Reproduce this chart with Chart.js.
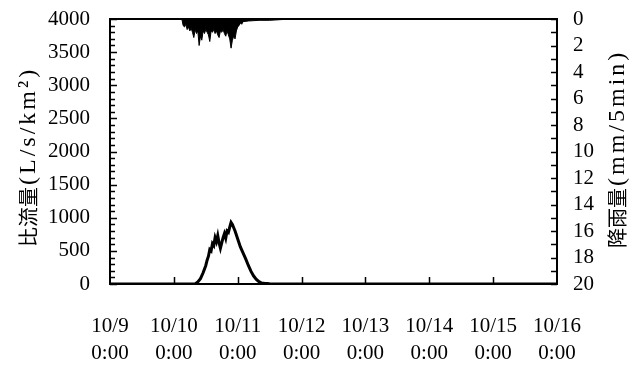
<!DOCTYPE html>
<html>
<head>
<meta charset="utf-8">
<script src="https://cdn.jsdelivr.net/npm/chart.js@4"></script>
<style>
  html, body { margin: 0; padding: 0; background: #fff; }
</style>
</head>
<body>
<canvas id="chart" width="636" height="366"></canvas>
<script>
// x axis: hours counted from 10/9 0:00
var dayLabels = ["10/9", "10/10", "10/11", "10/12", "10/13", "10/14", "10/15", "10/16"];
var timeLabel = "0:00";

// specific discharge (L/s/km2)
var flowHours = [0, 32, 33, 34, 35, 36, 36.5, 37, 37.5, 38, 38.5, 39, 39.5, 40, 40.5, 41, 41.5, 42, 42.5, 43,
  43.5, 44, 44.5, 45, 45.5, 46, 46.5, 47, 47.5, 48, 49, 50, 51, 52, 53, 54, 55, 56, 57, 58, 60, 64, 168];
var flowValues = [0, 0, 30, 80, 170, 280, 360, 420, 520, 500, 610, 580, 700, 640, 730, 620, 540, 620, 700, 760,
  690, 800, 780, 860, 930, 900, 850, 800, 740, 680, 560, 470, 380, 280, 190, 120, 70, 35, 15, 10, 3, 0, 0];

// rainfall (mm/5min)
var rainHours = [0, 27, 27.5, 28, 28.5, 29, 29.5, 30, 30.5, 31, 31.5, 32, 32.5, 33, 33.5, 34, 34.5, 35, 35.5,
  36, 36.5, 37, 37.5, 38, 38.5, 39, 39.5, 40, 40.5, 41, 41.5, 42, 42.5, 43, 43.5, 44, 44.5, 45, 45.5, 46,
  46.5, 47, 47.5, 48, 48.5, 49, 49.5, 50, 52, 56, 60, 64, 68, 168];
var rainValues = [0, 0, 0.5, 0.6, 0.4, 0.8, 0.6, 0.9, 0.7, 1.0, 1.4, 0.8, 1.1, 0.9, 2.0, 1.3, 1.6, 0.9, 1.1,
  0.8, 1.0, 1.2, 1.7, 0.9, 1.0, 0.8, 1.1, 0.9, 1.2, 1.4, 0.9, 1.0, 0.8, 1.1, 1.3, 0.9, 1.2, 1.5, 2.2, 1.6,
  1.3, 1.5, 0.9, 0.6, 0.5, 0.3, 0.4, 0.2, 0.15, 0.1, 0.1, 0.05, 0, 0];

var flowTitle = ["比流量", "(L/s/km²)"];
var rainTitle = ["降雨量", "(mm/5min)"];

var serif = "'Liberation Serif', 'Times New Roman', serif";
var cjk = "'Noto Sans CJK TC', 'Noto Sans CJK SC', sans-serif";

function toPoints(xs, ys) {
  return xs.map(function (x, i) { return { x: x, y: ys[i] }; });
}

// inward tick marks, frame and rotated axis titles
var decor = {
  id: "decor",
  afterDraw: function (chart) {
    var c = chart.ctx, a = chart.chartArea;
    var yL = chart.scales.yL, yR = chart.scales.yR, x = chart.scales.x;
    c.save();
    c.strokeStyle = "#000";
    c.lineWidth = 2;
    c.strokeRect(a.left, a.top, a.right - a.left, a.bottom - a.top);
    c.lineWidth = 1.5;
    c.beginPath();
    for (var v = 0; v <= 4000; v += 100) {
      var py = Math.round(yL.getPixelForValue(v)) + 0.5;
      c.moveTo(a.left, py);
      c.lineTo(a.left + (v % 500 === 0 ? 7 : 5), py);
    }
    for (var r = 0; r <= 20; r += 1) {
      var ry = Math.round(yR.getPixelForValue(r)) + 0.5;
      c.moveTo(a.right, ry);
      c.lineTo(a.right - 6, ry);
    }
    for (var h = 24; h < 168; h += 24) {
      var px = Math.round(x.getPixelForValue(h)) + 0.5;
      c.moveTo(px, a.bottom);
      c.lineTo(px, a.bottom - 7);
    }
    c.stroke();

    drawTitle(c, 28, 247, flowTitle);
    drawTitle(c, 617, 248, rainTitle);
    c.restore();
  }
};

function drawTitle(c, cx, bottom, parts) {
  c.save();
  c.translate(cx, bottom);
  c.rotate(-Math.PI / 2);
  c.fillStyle = "#000";
  c.textBaseline = "middle";
  c.textAlign = "left";
  c.font = "20px " + cjk;
  c.fillText(parts[0], 0, 0);
  var w = c.measureText(parts[0]).width;
  c.font = "24px " + serif;
  c.letterSpacing = "3px";
  c.fillText(parts[1], w + 2, 1);
  c.restore();
}

function fitY(width) {
  return function (s) {
    s.width = width;
    s.paddingTop = 0;
    s.paddingBottom = 0;
  };
}

new Chart(document.getElementById("chart").getContext("2d"), {
  type: "line",
  data: {
    datasets: [
      {
        label: "降雨量",
        data: toPoints(rainHours, rainValues),
        yAxisID: "yR",
        borderColor: "#000",
        backgroundColor: "#000",
        borderWidth: 1,
        pointRadius: 0,
        fill: "origin",
        tension: 0
      },
      {
        label: "比流量",
        data: toPoints(flowHours, flowValues),
        yAxisID: "yL",
        borderColor: "#000",
        borderWidth: 3,
        pointRadius: 0,
        fill: false,
        tension: 0
      }
    ]
  },
  options: {
    responsive: false,
    animation: false,
    layout: { padding: { top: 19, left: 0, right: 0, bottom: 0 } },
    plugins: { legend: { display: false }, tooltip: { enabled: false } },
    scales: {
      x: {
        type: "linear",
        min: 0,
        max: 168,
        grid: { display: false, drawTicks: false },
        border: { display: false },
        afterFit: function (s) { s.height = 82; },
        afterBuildTicks: function (s) {
          s.ticks = dayLabels.map(function (d, i) { return { value: i * 24 }; });
        },
        ticks: {
          color: "#000",
          padding: 29,
          maxRotation: 0,
          autoSkip: false,
          font: { family: serif, size: 21, lineHeight: 1.3 },
          callback: function (v) { return [dayLabels[Math.round(v / 24)], timeLabel]; }
        }
      },
      yL: {
        position: "left",
        min: 0,
        max: 4000,
        grid: { display: false, drawTicks: false },
        border: { display: false },
        afterFit: fitY(110),
        ticks: {
          stepSize: 500,
          autoSkip: false,
          color: "#000",
          padding: 20,
          font: { family: serif, size: 21 },
          callback: function (v) { return String(v); }
        }
      },
      yR: {
        position: "right",
        min: 0,
        max: 20,
        reverse: true,
        grid: { display: false, drawTicks: false },
        border: { display: false },
        afterFit: fitY(79),
        ticks: {
          stepSize: 2,
          autoSkip: false,
          color: "#000",
          padding: 16,
          font: { family: serif, size: 21 },
          callback: function (v) { return String(v); }
        }
      }
    }
  },
  plugins: [decor]
});
</script>
</body>
</html>
